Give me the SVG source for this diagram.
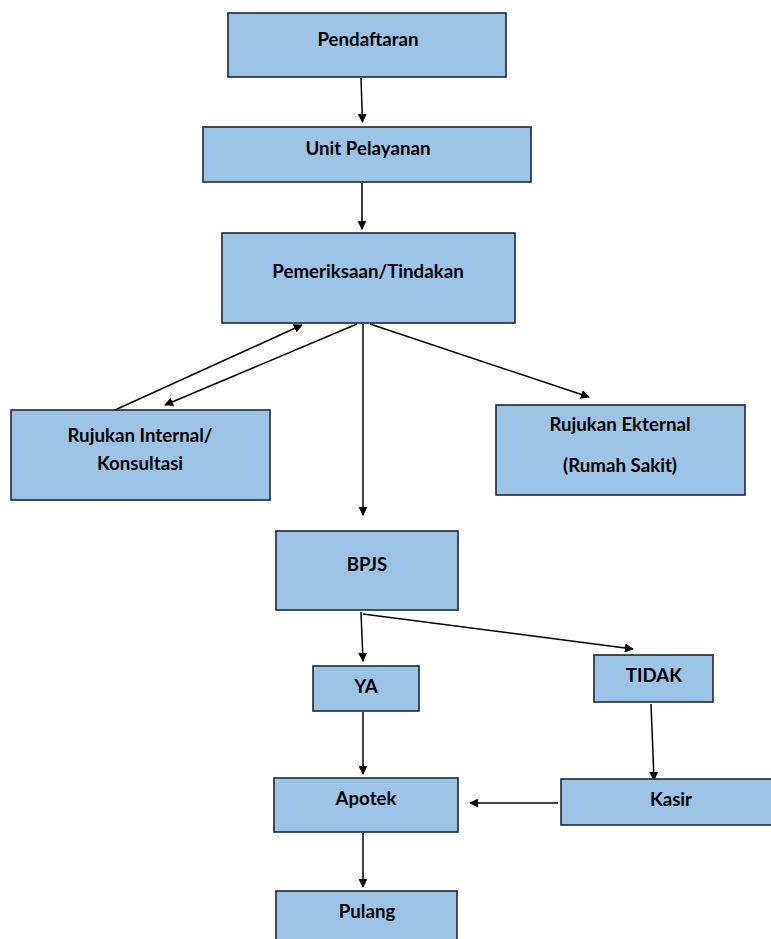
<svg xmlns="http://www.w3.org/2000/svg" width="771" height="939" viewBox="0 0 771 939">
<style>
.box{fill:#9dc3e6;stroke:#1c2836;stroke-width:1.6}
.lbl{font-family:Lato,"Open Sans","Liberation Sans",sans-serif;font-weight:bold;font-size:18.7px;fill:#000;text-anchor:middle}
.cn{stroke:#000;stroke-width:1.5;fill:none;marker-end:url(#ah)}
</style>
<defs>
<marker id="ah" viewBox="0 0 10 10" refX="9" refY="5" markerWidth="9" markerHeight="9" markerUnits="userSpaceOnUse" orient="auto">
<path d="M0,0 L10,5 L0,10 z" fill="#000"/>
</marker>
</defs>
<rect width="771" height="939" fill="#fff"/>
<g id="connectors">
<line class="cn" x1="361" y1="78" x2="362.5" y2="122"/>
<line class="cn" x1="362" y1="183" x2="362" y2="229"/>
<line class="cn" x1="357" y1="324" x2="165" y2="405"/>
<line class="cn" x1="115" y1="410" x2="302" y2="325"/>
<line class="cn" x1="363" y1="324" x2="363" y2="515"/>
<line class="cn" x1="370" y1="324" x2="589" y2="397"/>
<line class="cn" x1="361" y1="612" x2="363" y2="661"/>
<line class="cn" x1="363" y1="614" x2="633" y2="649"/>
<line class="cn" x1="363" y1="712" x2="363" y2="774"/>
<line class="cn" x1="651" y1="704" x2="654" y2="780"/>
<line class="cn" x1="558" y1="803" x2="470" y2="803"/>
<line class="cn" x1="363" y1="833" x2="363" y2="887"/>
</g>
<g id="pendaftaran"><rect class="box" x="228" y="13" width="278" height="64"/><text class="lbl" x="368" y="46">Pendaftaran</text></g>
<g id="unit-pelayanan"><rect class="box" x="203" y="127" width="328" height="55"/><text class="lbl" x="368" y="155">Unit Pelayanan</text></g>
<g id="pemeriksaan"><rect class="box" x="222" y="233" width="293" height="90"/><text class="lbl" x="368" y="278">Pemeriksaan/Tindakan</text></g>
<g id="rujukan-internal"><rect class="box" x="11" y="410" width="259" height="90"/><text class="lbl" x="140" y="442">Rujukan Internal/</text><text class="lbl" x="140" y="470">Konsultasi</text></g>
<g id="rujukan-eksternal"><rect class="box" x="496" y="405" width="249" height="90"/><text class="lbl" x="620" y="431">Rujukan Ekternal</text><text class="lbl" x="620" y="472">(Rumah Sakit)</text></g>
<g id="bpjs"><rect class="box" x="276" y="531" width="182" height="79"/><text class="lbl" x="367" y="571">BPJS</text></g>
<g id="ya"><rect class="box" x="313" y="666" width="106" height="45"/><text class="lbl" x="366" y="693">YA</text></g>
<g id="tidak"><rect class="box" x="594" y="655" width="119" height="47"/><text class="lbl" x="654" y="682">TIDAK</text></g>
<g id="apotek"><rect class="box" x="274" y="778" width="184" height="54"/><text class="lbl" x="366" y="805">Apotek</text></g>
<g id="kasir"><rect class="box" x="561" y="779" width="215" height="46"/><text class="lbl" x="671" y="806">Kasir</text></g>
<g id="pulang"><rect class="box" x="276" y="891" width="181" height="55"/><text class="lbl" x="367" y="918">Pulang</text></g>
</svg>
